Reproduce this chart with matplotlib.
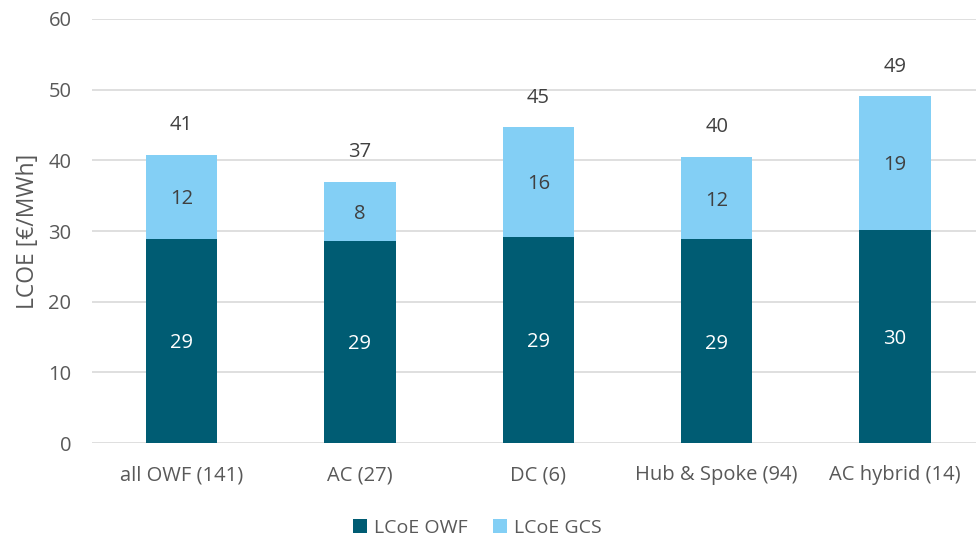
import matplotlib.pyplot as plt
import numpy as np

plt.rcParams['font.family'] = ['Open Sans', 'DejaVu Sans']

categories = ["all OWF (141)", "AC (27)", "DC (6)", "Hub & Spoke (94)", "AC hybrid (14)"]
lcoe_owf = [28.9, 28.6, 29.2, 28.8, 30.2]
lcoe_gcs = [11.9, 8.4, 15.5, 11.7, 18.9]

owf_color = "#005C73"
gcs_color = "#83CFF5"
text_color = "#595959"

fig = plt.figure(figsize=(9.76, 5.41), dpi=100)
ax = fig.add_axes([0.0945, 0.181, 0.914, 0.784])

x = np.arange(len(categories))
owf = np.array(lcoe_owf)
gcs = np.array(lcoe_gcs)
total = owf + gcs

b1 = ax.bar(x, owf, width=0.4, color=owf_color, label="LCoE OWF", zorder=3)
b2 = ax.bar(x, gcs, width=0.4, bottom=owf, color=gcs_color, label="LCoE GCS", zorder=3)

# value labels inside the segments and totals above
for i in range(len(x)):
    ax.text(x[i], owf[i] / 2, f"{owf[i]:.0f}", ha="center", va="center_baseline",
            color="white", fontsize=14.5)
    ax.text(x[i], owf[i] + gcs[i] / 2, f"{gcs[i]:.0f}", ha="center", va="center_baseline",
            color="#404040", fontsize=14.5)
    ax.annotate(f"{total[i]:.0f}", (x[i], total[i]), xytext=(0, 23),
                textcoords="offset points", ha="center", va="center_baseline",
                color="#404040", fontsize=14.5)

ax.set_xlim(-0.5, 4.5)
ax.set_ylim(0, 60)
ax.set_yticks(range(0, 61, 10))
ax.set_xticks(x)
ax.set_xticklabels(categories)
ax.yaxis.grid(True, color="#D9D9D9", linewidth=1.2, zorder=0)
ax.set_axisbelow(True)
for s in ax.spines.values():
    s.set_visible(False)
ax.tick_params(axis="both", length=0, colors=text_color, labelsize=14.5)
ax.tick_params(axis="y", pad=15)
ax.tick_params(axis="x", pad=16)
ax.set_ylabel("LCOE [€/MWh]", color=text_color, fontsize=16.5, labelpad=6)

fig.legend(handles=[b1, b2], loc="lower center", bbox_to_anchor=(0.489, -0.025),
           ncol=2, frameon=False, fontsize=14, labelcolor=text_color,
           handlelength=0.75, handleheight=0.75, handletextpad=0.35, columnspacing=1.3)

fig.savefig("out.png", dpi=100)
